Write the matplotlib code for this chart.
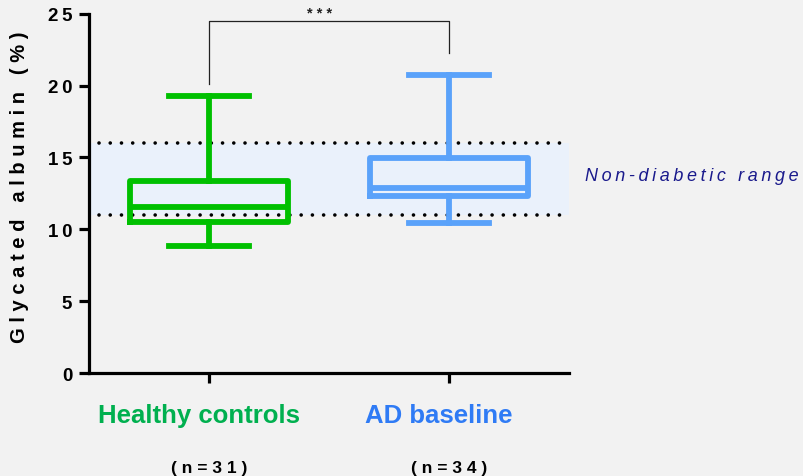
import matplotlib
matplotlib.use("Agg")
import matplotlib.pyplot as plt

groups = ["Healthy controls", "AD baseline"]
n_labels = ["(n = 3 1)", "(n = 3 4)"]
whislo = [8.87, 10.47]
q1 = [10.54, 12.30]
med = [11.58, 12.88]
q3 = [13.39, 14.93]
whishi = [19.24, 20.75]
box_colors = ["#00C000", "#5AA2FA"]
label_colors = ["#00B04F", "#2F7BF5"]
range_low, range_high = 11.0, 16.0
yticks = [0, 5, 10, 15, 20, 25]
bracket_y = 24.5
bracket_left_end = 20.1
bracket_right_end = 22.25

TS = "\u2009"
def spaced(s, sep=TS):
    out = []
    for w in s.split(" "):
        out.append(sep.join(list(w)))
    return (sep + " " + sep).join(out)

fam = ["Liberation Sans", "DejaVu Sans"]
plt.rcParams["font.family"] = fam

fig = plt.figure(figsize=(8.04, 4.77), dpi=100, facecolor="#F2F2F2")
ax = fig.add_axes([0.1107, 0.2159, 0.597, 0.7533])
ax.set_facecolor("#F2F2F2")

ax.axhspan(range_low, range_high, color="#EAF1FB", zorder=0, lw=0)
for yv in (range_low, range_high):
    ax.axhline(yv, xmin=0.02, xmax=1.0, color="black", lw=2.6,
               linestyle=(0, (0.01, 3.1)), dash_capstyle="round", zorder=1)

positions = list(range(len(groups)))
for i in positions:
    stats = [dict(med=med[i], q1=q1[i], q3=q3[i], whislo=whislo[i], whishi=whishi[i], fliers=[])]
    c = box_colors[i]
    ax.bxp(stats, positions=[i], widths=0.66, capwidths=0.33, showfliers=False,
           boxprops=dict(color=c, lw=4.2),
           medianprops=dict(color=c, lw=4.2),
           whiskerprops=dict(color=c, lw=4.2),
           capprops=dict(color=c, lw=4.2),
           manage_ticks=False, zorder=3)

# significance bracket
ax.plot([0, 0, 1, 1], [bracket_left_end, bracket_y, bracket_y, bracket_right_end],
        color="#222222", lw=0.9, clip_on=False, zorder=4)
ax.text(0.46, 25.05, "* * *", ha="center", va="center", fontsize=10.5,
        fontweight="bold", color="#222222", clip_on=False)

ax.set_xlim(-0.5, 1.5)
ax.set_ylim(0, 25)
ax.set_yticks(yticks)
ax.set_yticklabels([spaced(str(t)) for t in yticks], fontsize=13.5, fontweight="bold")
ax.set_xticks(positions)
ax.set_xticklabels([])
for s in ("top", "right"):
    ax.spines[s].set_visible(False)
for s in ("left", "bottom"):
    ax.spines[s].set_linewidth(2.3)
ax.tick_params(axis="both", width=2.3, length=7, direction="out", pad=5)

ax.set_ylabel(spaced("Glycated albumin (%)", " "),
              fontsize=14.5, fontweight="bold", va="center")
ax.yaxis.set_label_coords(-0.144, 0.52)

for i in positions:
    ax.text(i - 0.042, -0.117, groups[i], transform=ax.get_xaxis_transform(), ha="center",
            va="center", fontsize=18.5, fontweight="bold", color=label_colors[i])
    ax.text(i, -0.262, spaced(n_labels[i].replace(" ", ""), " "),
            transform=ax.get_xaxis_transform(),
            ha="center", va="center", fontsize=12.5, fontweight="bold", color="black")

fig.text(585 / 804, 1 - 177 / 477, spaced("Non-diabetic range"),
         ha="left", va="center", fontsize=13, style="italic", color="#1A1A8C")

fig.savefig("out.png", dpi=100, facecolor=fig.get_facecolor())
